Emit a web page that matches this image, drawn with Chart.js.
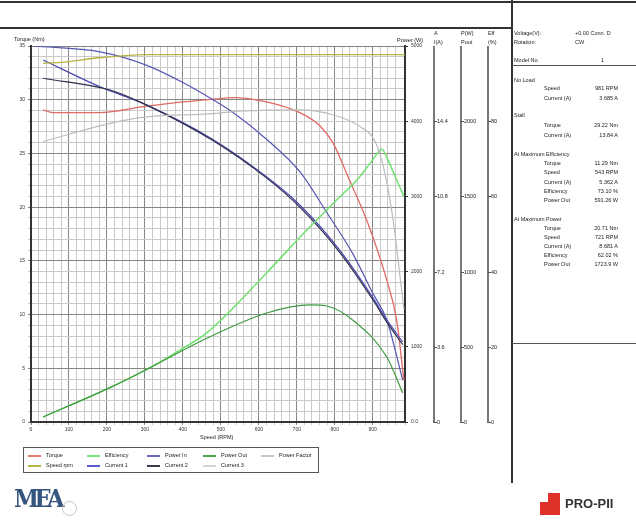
<!DOCTYPE html>
<html>
<head>
<meta charset="utf-8">
<script src="https://cdn.jsdelivr.net/npm/chart.js@4/dist/chart.umd.min.js"></script>
<style>
    body { margin: 0; width: 636px; height: 524px; position: relative; background: #fff; font-family: "Liberation Sans", Arial, sans-serif; overflow: hidden; }
    canvas { position: absolute; left: 0; top: 0; }
    .t { position: absolute; font-size: 5.5px; color: #222; white-space: nowrap; line-height: 6px; }
    .r { text-align: right; }
    .hl { position: absolute; height: 0; }
    .vl { position: absolute; width: 0; }
    .leg { position: absolute; font-size: 5.5px; color: #222; white-space: nowrap; line-height: 6px; }
    .leg i { display: inline-block; width: 13px; height: 2px; vertical-align: middle; margin-right: 5px; }
</style>
</head>
<body>
<canvas id="chart" width="636" height="524"></canvas>
<div id="overlay"></div>
<script>
// axis ranges and tick labels
const speedMax = 985
const torqueMax = 35
const powerTicks = ['0.0', '1000', '2000', '3000', '4000', '5000']
const currentTicks = ['0', '3.6', '7.2', '10.8', '14.4']
const pwTicks = ['0', '500', '1000', '1500', '2000']
const effTicks = ['0', '20', '40', '60', '80']

// curves (speed rpm -> value on the torque scale)
const torqueRpm = [32, 60, 180, 305, 400, 480, 532, 620, 708, 760, 795, 839, 884, 937, 963, 982]
const torqueVal = [29.05, 28.8, 28.8, 29.4, 29.8, 30.05, 30.2, 29.8, 28.8, 27.6, 26.0, 22.5, 18.8, 13.2, 9.5, 3.9]

const effRpm = [32, 208, 305, 392, 463, 621, 708, 813, 858, 900, 924, 940, 960, 982]
const effVal = [0.47, 3.2, 4.9, 6.7, 8.3, 13.9, 17.2, 20.95, 22.5, 24.4, 25.4, 24.4, 22.8, 21.0]

const pOutRpm = [32, 208, 305, 463, 621, 734, 779, 847, 937, 979]
const pOutVal = [0.47, 3.2, 4.9, 7.8, 10.15, 10.9, 10.8, 9.5, 6.05, 2.7]

const pInRpm = [5, 182, 305, 400, 479, 532, 621, 708, 779, 847, 900, 937, 979]
const pInVal = [35.0, 34.45, 33.2, 31.6, 30.0, 28.8, 26.3, 23.3, 19.5, 15.7, 12.0, 9.5, 3.9]

const cur1Rpm = [32, 182, 305, 479, 621, 708, 813, 900, 937, 979]
const cur1Val = [33.7, 31.2, 29.5, 26.3, 22.8, 20.2, 16.0, 11.6, 9.5, 7.45]

const cur2Rpm = [32, 208, 305, 479, 621, 708, 813, 900, 937, 979]
const cur2Val = [32.0, 30.9, 29.5, 26.2, 22.7, 20.0, 15.8, 11.4, 9.3, 7.2]

const pfRpm = [32, 208, 305, 479, 532, 708, 795, 866, 905, 930, 955, 972, 982]
const pfVal = [26.1, 27.8, 28.4, 28.7, 28.9, 29.05, 28.6, 27.5, 26.2, 23.5, 18.5, 13.5, 10.5]

const speedRpm = [32, 85, 180, 300, 985]
const speedVal = [33.4, 33.5, 33.9, 34.2, 34.2]

const legendNames = ['Torque', 'Efficiency', 'Power In', 'Power Out', 'Power Factor', 'Speed rpm', 'Current 1', 'Current 2', 'Current 3']
const legendColors = ['#e87a76', '#7ae87a', '#6a6ac4', '#4aa84a', '#c8c8c8', '#b4b440', '#5a5ad0', '#3a3a52', '#d4d4d4']

function pts(xs, ys) {
    return xs.map((x, i) => ({ x: x, y: ys[i] }))
}

function line(label, xs, ys, color, width) {
    return {
        label: label,
        data: pts(xs, ys),
        borderColor: color,
        borderWidth: width || 1.2,
        pointRadius: 0,
        fill: false,
        cubicInterpolationMode: 'monotone'
    }
}

new Chart(document.getElementById('chart').getContext('2d'), {
    type: 'line',
    data: {
        datasets: [
            line('Speed rpm', speedRpm, speedVal, '#b4b440', 1.4),
            line('Power Factor', pfRpm, pfVal, '#bdbdbd'),
            line('Power Out', pOutRpm, pOutVal, '#3d9a3d'),
            line('Efficiency', effRpm, effVal, '#6fe06f', 1.5),
            line('Current 2', cur2Rpm, cur2Val, '#2e2e4e'),
            line('Current 1', cur1Rpm, cur1Val, '#4848b0'),
            line('Power In', pInRpm, pInVal, '#5656b4'),
            line('Torque', torqueRpm, torqueVal, '#e06a66', 1.3)
        ]
    },
    options: {
        responsive: false,
        animation: false,
        layout: { autoPadding: false, padding: { left: 0, top: 46, right: 206, bottom: 82 } },
        plugins: { legend: { display: false }, tooltip: { enabled: false } },
        scales: {
            x: {
                type: 'linear', min: 0, max: speedMax,
                afterFit: s => { s.height = 20 },
                border: { color: '#333', width: 2 },
                grid: { color: c => (c.tick && c.tick.value % 100 === 0) ? '#858585' : '#cacaca', tickLength: 3 },
                ticks: { stepSize: 20, autoSkip: false, maxRotation: 0, padding: 2, font: { size: 5 }, color: '#333',
                    callback: v => v % 100 === 0 ? String(v) : '' }
            },
            y: {
                type: 'linear', position: 'left', min: 0, max: torqueMax,
                afterFit: s => { s.width = 31 },
                border: { color: '#333', width: 2 },
                grid: { color: c => (c.tick && c.tick.value % 5 === 0) ? '#858585' : '#cacaca', tickLength: 3 },
                ticks: { stepSize: 1, autoSkip: false, padding: 3, font: { size: 5 }, color: '#333',
                    callback: v => v % 5 === 0 ? String(v) : '' }
            },
            y2: {
                type: 'linear', position: 'right', min: 0, max: 5000,
                afterFit: s => { s.width = 25 },
                border: { color: '#333', width: 2 },
                grid: { drawOnChartArea: false, tickLength: 3, color: '#333' },
                ticks: { stepSize: 1000, padding: 3, font: { size: 5 }, color: '#333',
                    callback: (v, i) => powerTicks[i] }
            }
        }
    }
});

// page furniture: frame lines, extra axis columns, info panel, legend, logos
const ov = document.getElementById('overlay')
function add(html) { ov.insertAdjacentHTML('beforeend', html) }
function txt(x, y, s, extra) { add(`<div class="t" style="left:${x}px;top:${y - 3}px;${extra || ''}">${s}</div>`) }
function rtxt(x, y, s) { add(`<div class="t r" style="right:${636 - x}px;top:${y - 3}px;">${s}</div>`) }

add('<div class="hl" style="left:0;top:1px;width:636px;border-top:2px solid #333"></div>')
add('<div class="hl" style="left:0;top:27px;width:512px;border-top:2px solid #333"></div>')
add('<div class="vl" style="left:511px;top:0;height:483px;border-left:2px solid #333"></div>')
add('<div class="hl" style="left:512px;top:65px;width:124px;border-top:1px solid #555"></div>')
add('<div class="hl" style="left:512px;top:343px;width:124px;border-top:1px solid #555"></div>')

txt(14, 39, 'Torque (Nm)')
rtxt(423, 40, 'Power (W)')
txt(200, 437, 'Speed (RPM)')

// extra value columns
const cols = [
    { x: 433, h1: 'A', h2: 'I(A)', labels: currentTicks },
    { x: 460, h1: 'P(W)', h2: 'Pout', labels: pwTicks },
    { x: 487, h1: 'Eff', h2: '(%)', labels: effTicks }
]
cols.forEach(c => {
    add(`<div class="vl" style="left:${c.x}px;top:46px;height:377px;border-left:2px solid #777"></div>`)
    txt(c.x + 1, 33, c.h1)
    txt(c.x + 1, 42, c.h2)
    c.labels.forEach((lab, i) => {
        const y = 422 - i * 75.2
        add(`<div class="hl" style="left:${c.x + 1}px;top:${y}px;width:3px;border-top:1px solid #555"></div>`)
        txt(c.x + 4, y, lab)
    })
})

// info panel
txt(514, 33, 'Voltage(V):'); txt(575, 33, '+0.00 Conn. D')
txt(514, 42, 'Rotation:'); txt(575, 42, 'CW')
txt(514, 60, 'Model No.'); txt(601, 60, '1')
const panel = [
    ['No Load', 80, []],
    ['', 88, ['Speed', '981 RPM']],
    ['', 98, ['Current (A)', '3.685 A']],
    ['Stall', 115, []],
    ['', 125, ['Torque', '29.22 Nm']],
    ['', 135, ['Current (A)', '13.84 A']],
    ['At Maximum Efficiency', 154, []],
    ['', 163, ['Torque', '11.29 Nm']],
    ['', 172, ['Speed', '543 RPM']],
    ['', 182, ['Current (A)', '5.362 A']],
    ['', 191, ['Efficiency', '73.10 %']],
    ['', 200, ['Power Out', '591.26 W']],
    ['At Maximum Power', 219, []],
    ['', 228, ['Torque', '20.71 Nm']],
    ['', 237, ['Speed', '721 RPM']],
    ['', 246, ['Current (A)', '8.681 A']],
    ['', 255, ['Efficiency', '62.02 %']],
    ['', 264, ['Power Out', '1723.9 W']]
]
panel.forEach(p => {
    if (p[0]) txt(514, p[1], p[0])
    else { txt(544, p[1], p[2][0]); rtxt(618, p[1], p[2][1]) }
})

// legend box
add('<div style="position:absolute;left:23px;top:447px;width:294px;height:24px;border:1.5px solid #555"></div>')
const legX = [28, 87, 147, 203, 261]
legendNames.forEach((n, i) => {
    const row = i < 5 ? 0 : 1
    const col = i < 5 ? i : i - 5
    add(`<div class="leg" style="left:${legX[col]}px;top:${452 + row * 10}px;"><i style="background:${legendColors[i]}"></i>${n}</div>`)
})

// logos
add('<div style="position:absolute;left:14px;top:485px;font-family:\'DejaVu Serif\',serif;font-weight:bold;font-size:25px;letter-spacing:-5px;color:#34557f;line-height:28px;transform:scaleX(0.9);transform-origin:left;">MEA</div>')
add('<div style="position:absolute;left:62px;top:501px;width:13px;height:13px;border-radius:50%;border:1.5px solid #c4c4c4;"></div>')
add('<div style="position:absolute;left:548px;top:493px;width:12px;height:22px;background:#e0302a;"></div>')
add('<div style="position:absolute;left:540px;top:502px;width:8px;height:13px;background:#e0302a;"></div>')
add('<div style="position:absolute;left:565px;top:496px;font-weight:bold;font-size:13px;color:#333;line-height:16px;">PRO-PII</div>')
</script>
</body>
</html>
